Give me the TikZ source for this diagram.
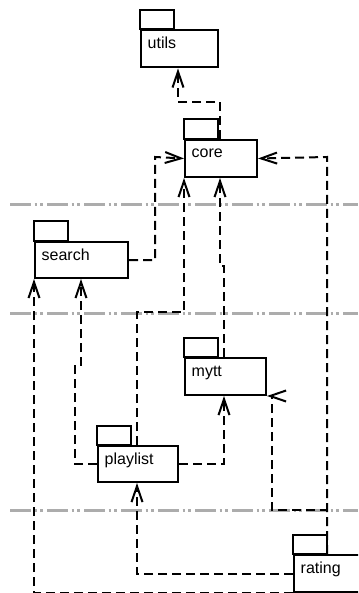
\documentclass[tikz,border=0pt]{standalone}
\usepackage{fontspec}
\setmainfont{Liberation Sans}
\usetikzlibrary{arrows.meta}
\definecolor{sepgray}{RGB}{172,172,172}
\begin{document}
\begin{tikzpicture}[x=1pt,y=-1pt,
  pkgbody/.style={draw=black,line width=2pt,fill=white,rectangle,inner sep=0pt,anchor=north west},
  pkgtab/.style={draw=black,line width=2pt,fill=white},
  pkgtext/.style={anchor=base west,inner sep=0pt,font=\fontsize{16}{18}\selectfont},
  dep/.style={draw=black,line width=2pt,dash pattern=on 9pt off 5pt,
    -{Straight Barb[length=16pt,width=11pt,line width=2pt]}},
  sepline/.style={draw=sepgray,line width=3pt,
    dash pattern=on 21pt off 3.5pt on 2.5pt off 3pt on 2.5pt off 4.5pt}]
\useasboundingbox (0,0) rectangle (358,593);
\clip (0,0) rectangle (358,593);
% separators
\draw[sepline] (10,205) -- (358,205);
\draw[sepline] (10,313) -- (358,313);
\draw[sepline] (10,510) -- (358,510);
% packages (bodies as named nodes)
\newcommand\pkgdraw[6]{%
  \draw[pkgtab] (#2,#3-19.5) rectangle (#2+33.5,#3);
  \node[pkgbody,minimum width=#4pt,minimum height=#5pt] (#1) at (#2,#3) {};
  \node[pkgtext] (#1-t) at (#2+7.5,#3+19) {#6};}
% bend coordinates
\coordinate (c1) at (220,102);
\coordinate (c2) at (178,102);
\coordinate (s1) at (155,157);
\coordinate (p1) at (137,312);
\coordinate (m1) at (224,266);
\coordinate (m2) at (220,266);
\coordinate (r1) at (327,157);
\coordinate (r2) at (272,510);
\coordinate (ps1) at (75,365);
\coordinate (ps2) at (81,365);
\coordinate (rp) at (137,572);
% packages
\pkgdraw{utils}{140}{29.5}{77}{37}{utils}
\pkgdraw{core}{184}{139}{72}{37}{core}
\pkgdraw{search}{34}{241}{93}{36}{search}
\pkgdraw{mytt}{184}{357}{81}{37}{mytt}
\pkgdraw{playlist}{97}{445}{80}{36}{playlist}
\pkgdraw{rating}{293}{554}{90}{37}{rating}
% dependencies
\draw[dep] (core.north -| c1) |- (c2) -- (utils.south -| c2);
\draw[dep] (search.east) -| (s1) -- (core.west);
\draw[dep] (playlist.north -| p1) -- (p1) -| (core.south west);
\draw[dep] (mytt.north -| m1) -- (m1) -- (m2) -- (core.south -| m2);
\draw[dep] (rating.north -| r1) -- (r1) -- (core.east);
\draw[dep] (rating.north -| r1) |- (r2) -- (r2 |- mytt.south) -- (mytt.south east);
\draw[dep] (rating.south west) -| (search.south west);
\draw[dep] (playlist.west) -| (ps1) -- (ps2) -- (search.south -| ps2);
\draw[dep] (playlist.east) -| (mytt.south -| m1);
\draw[dep] (rating.west) -| (playlist.south -| rp);
\end{tikzpicture}
\end{document}
